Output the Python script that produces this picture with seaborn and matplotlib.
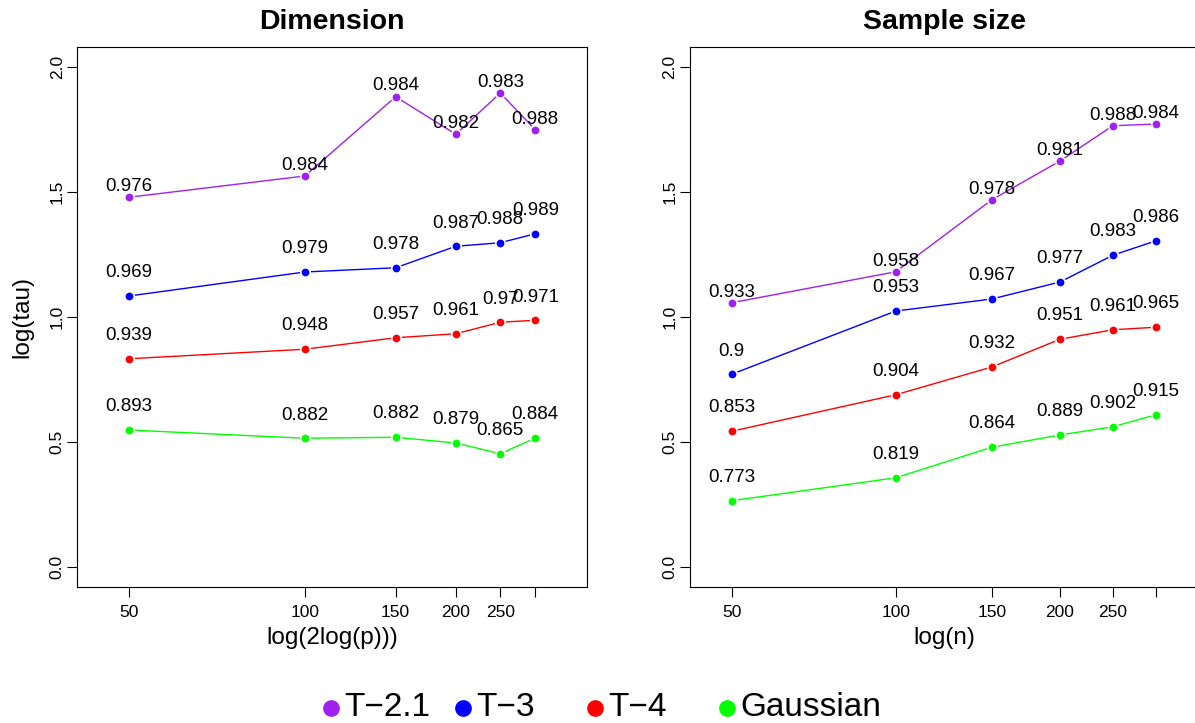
import numpy as np
import pandas as pd
import matplotlib
matplotlib.use("Agg")
import matplotlib.pyplot as plt
from matplotlib.lines import Line2D
import seaborn as sns

# ----------------------- Data -----------------------

series_names = ["T\u22122.1", "T\u22123", "T\u22124", "Gaussian"]
series_colors = ["#A020F0", "#0000FF", "#FF0000", "#00FF00"]

# grid of p (dimension) and n (sample size)
grid_values = [50, 100, 150, 200, 250, 300]
grid_labels = ["50", "100", "150", "200", "250", ""]

# log(tau)
dim_tau = {
    "T\u22122.1": [1.479, 1.564, 1.881, 1.731, 1.896, 1.749],
    "T\u22123": [1.084, 1.180, 1.197, 1.283, 1.297, 1.333],
    "T\u22124": [0.833, 0.871, 0.917, 0.933, 0.979, 0.987],
    "Gaussian": [0.548, 0.515, 0.519, 0.496, 0.453, 0.516],
}
size_tau = {
    "T\u22122.1": [1.057, 1.181, 1.469, 1.624, 1.765, 1.772],
    "T\u22123": [0.771, 1.024, 1.072, 1.140, 1.247, 1.305],
    "T\u22124": [0.543, 0.689, 0.800, 0.911, 0.949, 0.959],
    "Gaussian": [0.265, 0.357, 0.479, 0.528, 0.561, 0.609],
}

# values printed above the points
dim_labels = {
    "T\u22122.1": [0.976, 0.984, 0.984, 0.982, 0.983, 0.988],
    "T\u22123": [0.969, 0.979, 0.978, 0.987, 0.988, 0.989],
    "T\u22124": [0.939, 0.948, 0.957, 0.961, 0.97, 0.971],
    "Gaussian": [0.893, 0.882, 0.882, 0.879, 0.865, 0.884],
}
size_labels = {
    "T\u22122.1": [0.933, 0.958, 0.978, 0.981, 0.988, 0.984],
    "T\u22123": [0.9, 0.953, 0.967, 0.977, 0.983, 0.986],
    "T\u22124": [0.853, 0.904, 0.932, 0.951, 0.961, 0.965],
    "Gaussian": [0.773, 0.819, 0.864, 0.889, 0.902, 0.915],
}

# ----------------------- Helpers -----------------------

def to_long(tau: dict, xvals: np.ndarray) -> pd.DataFrame:
    rows = []
    for name in series_names:
        for xv, yv in zip(xvals, tau[name]):
            rows.append({"x": xv, "y": yv, "series": name})
    return pd.DataFrame(rows)


def draw_panel(ax, tau, labels, xvals, xlim, title, xlabel, ylabel=None):
    df = to_long(tau, xvals)
    sns.lineplot(data=df, x="x", y="y", hue="series", hue_order=series_names,
                 palette=series_colors, marker="o", markersize=6.8,
                 markeredgecolor="white", markeredgewidth=1.2, linewidth=1,
                 sort=False, legend=False, ax=ax)
    # value labels: purple sits closer to its points
    for name in series_names:
        off = 0.043 if name == series_names[0] else 0.093
        for xv, yv, lab in zip(xvals, tau[name], labels[name]):
            ax.text(xv, yv + off, f"{lab:g}", ha="center", va="center",
                    fontsize=13.5, color="black", zorder=5)

    ax.set_xlim(*xlim)
    ax.set_ylim(-0.08, 2.08)
    ax.set_xticks(xvals)
    ax.set_xticklabels(grid_labels)
    ax.set_yticks([0, 0.5, 1.0, 1.5, 2.0])
    ax.set_yticklabels(["0.0", "0.5", "1.0", "1.5", "2.0"])
    for lab in ax.get_yticklabels():
        lab.set_rotation(90)
        lab.set_va("center")
    ax.tick_params(axis="both", direction="out", length=7, width=0.8,
                   labelsize=12.5, colors="black", bottom=True, left=True)
    ax.tick_params(axis="x", pad=6)
    ax.tick_params(axis="y", pad=2)
    for sp in ax.spines.values():
        sp.set_visible(True)
        sp.set_color("black")
        sp.set_linewidth(0.8)

    ax.set_title(title, fontsize=20.5, fontweight="bold", pad=13,
                 color="black")
    ax.set_xlabel(xlabel, fontsize=17.5, color="black")
    ax.xaxis.set_label_coords(0.5, -51 / 540)
    ax.xaxis.label.set_va("center")
    if ylabel:
        ax.set_ylabel(ylabel, fontsize=17.5, color="black")
        ax.yaxis.set_label_coords(-55 / 509.4, 0.5)
        ax.yaxis.label.set_va("center")
    else:
        ax.set_ylabel("")


# ----------------------- Figure -----------------------

sns.set_style("white")
plt.rcParams["font.family"] = ["Liberation Sans", "DejaVu Sans"]
plt.rcParams["text.color"] = "black"

W, H = 1195, 723
fig = plt.figure(figsize=(W / 100, H / 100), dpi=100)

ax_w = 509.4 / W
ax_h = 540 / H
ax_b = 136 / H
ax1 = fig.add_axes([77.3 / W, ax_b, ax_w, ax_h])
ax2 = fig.add_axes([689.7 / W, ax_b, ax_w, ax_h])

grid = np.array(grid_values, dtype=float)
x_dim = np.log(2 * np.log(grid))
x_size = np.log(grid)

draw_panel(ax1, dim_tau, dim_labels, x_dim, (2.0092, 2.4820),
           "Dimension", "log(2log(p)))", "log(tau)")
draw_panel(ax2, size_tau, size_labels, x_size, (3.7347, 5.8858),
           "Sample size", "log(n)")

# legend: equally spaced columns, drawn in figure coordinates
leg_y = 15 / H
for i, (name, col) in enumerate(zip(series_names, series_colors)):
    cx = (330.6 + 132 * i) / W
    fig.add_artist(Line2D([cx], [leg_y], marker="o", linestyle="none",
                          color=col, markersize=11, transform=fig.transFigure))
    fig.text(cx + 14 / W, leg_y, name, ha="left", va="center", fontsize=24,
             color="black")

fig.savefig("out.png", dpi=100)
